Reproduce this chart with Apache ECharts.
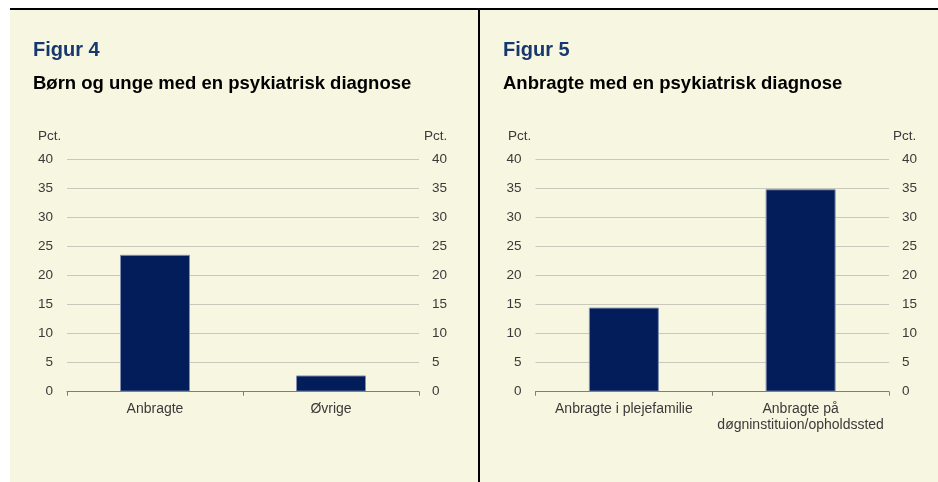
<!DOCTYPE html>
<html>
<head>
<meta charset="utf-8">
<script src="https://cdn.jsdelivr.net/npm/echarts@6/dist/echarts.min.js"></script>
<style>
html,body{margin:0;padding:0;background:#ffffff;}
#c{width:938px;height:482px;}
</style>
</head>
<body>
<div id="c"></div>
<script>
// ---- data ----
const fig1Label = 'Figur 4';
const fig1Title = 'Børn og unge med en psykiatrisk diagnose';
const fig1Categories = ['Anbragte', 'Øvrige'];
const fig1Values = [23.6, 2.8];

const fig2Label = 'Figur 5';
const fig2Title = 'Anbragte med en psykiatrisk diagnose';
const fig2Categories = ['Anbragte i plejefamilie', 'Anbragte på\ndøgninstituion/opholdssted'];
const fig2Values = [14.5, 34.9];

const yUnit = 'Pct.';
const yMin = 0, yMax = 40, yStep = 5;

// ---- styles ----
const FONT = 'Liberation Sans, Arial, sans-serif';
const BG = '#F7F6E0';
const NAVY = '#031D5B';
const TITLEBLUE = '#17386F';
const TXT = '#3a3a3a';

const chart = echarts.init(document.getElementById('c'), null, {renderer: 'canvas'});

function yAx(gridIndex, pos, showSplit) {
  return {
    type: 'value', gridIndex: gridIndex, position: pos,
    min: yMin, max: yMax, interval: yStep,
    axisLine: {show: false}, axisTick: {show: false},
    axisLabel: {color: TXT, fontFamily: FONT, fontSize: 13.5, margin: pos === 'left' ? 14 : 13},
    splitLine: {show: showSplit, lineStyle: {color: '#c9c8bc', width: 1}}
  };
}
function xAx(gridIndex, cats) {
  return {
    type: 'category', gridIndex: gridIndex, data: cats,
    boundaryGap: true,
    axisLine: {show: true, lineStyle: {color: '#7d7d7d', width: 1}},
    axisTick: {show: true, length: 4, alignWithLabel: false, lineStyle: {color: '#7d7d7d'}},
    axisLabel: {color: TXT, fontFamily: FONT, fontSize: 14, margin: 9, lineHeight: 16, interval: 0}
  };
}
const barStyle = {color: NAVY, borderColor: '#8190b0', borderWidth: 1};

const option = {
  animation: false,
  backgroundColor: '#ffffff',
  graphic: [
    {type: 'rect', shape: {x: 10, y: 9, width: 928, height: 473}, style: {fill: BG}, z: -10},
    {type: 'line', shape: {x1: 10, y1: 9, x2: 938, y2: 9}, style: {stroke: '#000', lineWidth: 2}},
    {type: 'line', shape: {x1: 479, y1: 9, x2: 479, y2: 482}, style: {stroke: '#000', lineWidth: 2}},
    {type: 'text', left: 38, top: 129, style: {text: yUnit, fill: TXT, font: '13.5px ' + FONT}},
    {type: 'text', left: 424, top: 129, style: {text: yUnit, fill: TXT, font: '13.5px ' + FONT}},
    {type: 'text', left: 508, top: 129, style: {text: yUnit, fill: TXT, font: '13.5px ' + FONT}},
    {type: 'text', left: 893, top: 129, style: {text: yUnit, fill: TXT, font: '13.5px ' + FONT}}
  ],
  title: [
    {text: fig1Label, left: 33, top: 40, padding: 0, textStyle: {color: TITLEBLUE, fontFamily: FONT, fontWeight: 'bold', fontSize: 20}},
    {text: fig1Title, left: 33, top: 74, padding: 0, textStyle: {color: '#000', fontFamily: FONT, fontWeight: 'bold', fontSize: 18.5}},
    {text: fig2Label, left: 503, top: 40, padding: 0, textStyle: {color: TITLEBLUE, fontFamily: FONT, fontWeight: 'bold', fontSize: 20}},
    {text: fig2Title, left: 503, top: 74, padding: 0, textStyle: {color: '#000', fontFamily: FONT, fontWeight: 'bold', fontSize: 18.5}}
  ],
  grid: [
    {left: 67, right: 519, top: 159.7, bottom: 90.3},
    {left: 535.5, right: 49, top: 159.7, bottom: 90.3}
  ],
  xAxis: [xAx(0, fig1Categories), xAx(1, fig2Categories)],
  yAxis: [yAx(0, 'left', true), yAx(0, 'right', false), yAx(1, 'left', true), yAx(1, 'right', false)],
  series: [
    {type: 'bar', xAxisIndex: 0, yAxisIndex: 0, data: fig1Values, barWidth: 70, itemStyle: barStyle},
    {type: 'bar', xAxisIndex: 1, yAxisIndex: 2, data: fig2Values, barWidth: 70, itemStyle: barStyle}
  ]
};
chart.setOption(option);
</script>
</body>
</html>
